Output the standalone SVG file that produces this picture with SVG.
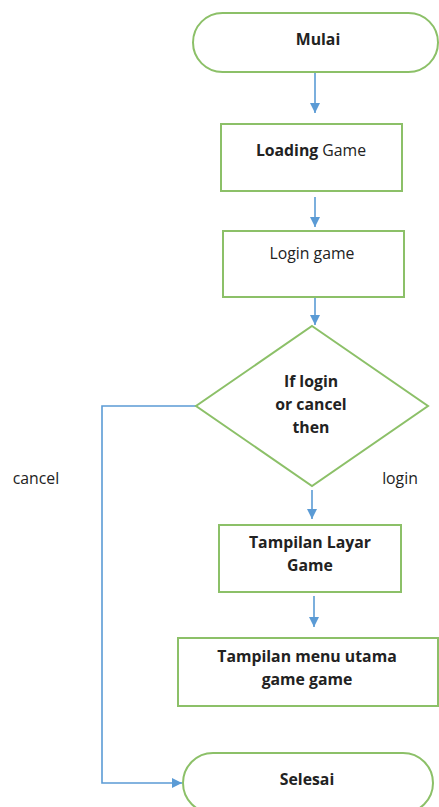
<svg xmlns="http://www.w3.org/2000/svg" width="439" height="807" viewBox="0 0 439 807">
<defs>
<marker id="ah" viewBox="0 0 10 10" refX="10" refY="5" markerWidth="10" markerHeight="10" markerUnits="userSpaceOnUse" orient="auto">
<path d="M0,0 L10,5 L0,10 z" fill="#5B9BD5"/>
</marker>
<style>
.n{fill:#fff;stroke:#8CC068;stroke-width:2}
.t{font-family:"Open Sans","Liberation Sans",sans-serif;font-size:15.8px;fill:#222;text-anchor:middle}
.b{font-weight:bold}
.c{fill:none;stroke:#5B9BD5;stroke-width:1.6;marker-end:url(#ah)}
</style>
</defs>
<rect width="439" height="807" fill="#fff"/>
<g id="connectors">
<path class="c" d="M315,72 V113"/>
<path class="c" d="M315,197 V227"/>
<path class="c" d="M315,294 V325"/>
<path class="c" d="M312,490 V519"/>
<path class="c" d="M314,596 V627"/>
<path class="c" d="M196,406 H102 V783 H182"/>
</g>
<g id="mulai">
<rect class="n" x="193" y="13" width="245" height="59" rx="29.5"/>
<text class="t b" x="318" y="45">Mulai</text>
</g>
<g id="loading">
<rect class="n" x="221" y="124" width="181" height="67"/>
<text class="t" x="311" y="156"><tspan class="b">Loading</tspan> Game</text>
</g>
<g id="login">
<rect class="n" x="223" y="231" width="181" height="66"/>
<text class="t" x="312" y="259">Login game</text>
</g>
<g id="decision">
<polygon class="n" points="312,326 428,406 312,486 196,406"/>
<text class="t b" x="311" y="387">If login</text>
<text class="t b" x="311" y="410">or cancel</text>
<text class="t b" x="311" y="433">then</text>
</g>
<g id="layar">
<rect class="n" x="219" y="525" width="182" height="67"/>
<text class="t b" x="310" y="548">Tampilan Layar</text>
<text class="t b" x="310" y="571">Game</text>
</g>
<g id="menu">
<rect class="n" x="178" y="638" width="260" height="68"/>
<text class="t b" x="307" y="662">Tampilan menu utama</text>
<text class="t b" x="307" y="685">game game</text>
</g>
<g id="selesai">
<rect class="n" x="183" y="753" width="250" height="60" rx="30"/>
<text class="t b" x="307" y="785">Selesai</text>
</g>
<text class="t" x="36" y="484">cancel</text>
<text class="t" x="400" y="484">login</text>
</svg>
